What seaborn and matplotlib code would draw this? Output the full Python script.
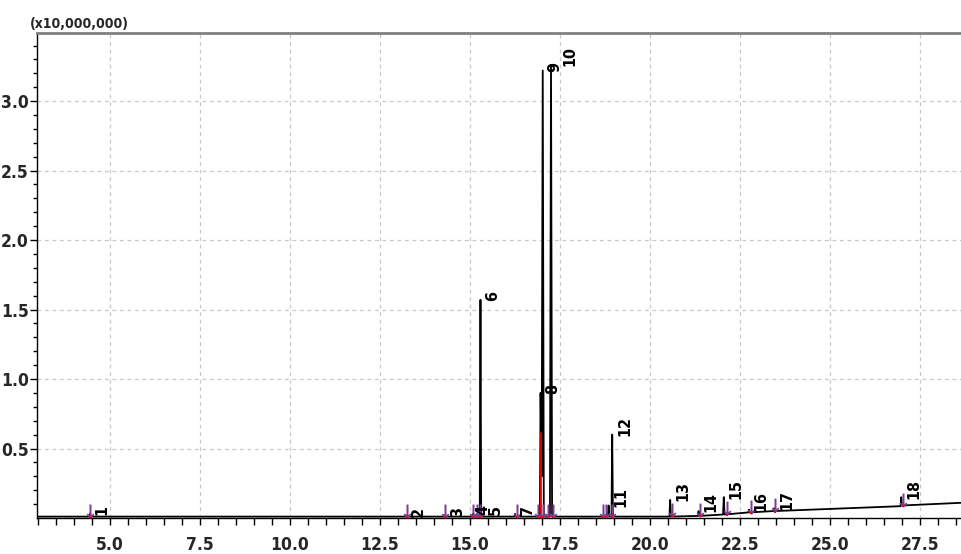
import matplotlib
matplotlib.use("Agg")
import matplotlib.pyplot as plt
from matplotlib import font_manager as fm
import seaborn as sns
import pandas as pd

# ---- data (retention time in min, intensity in x10,000,000) ----
trace_rt = [3.0, 4.42, 4.44, 4.46, 13.20, 13.22, 13.24, 14.28, 14.30, 14.32,
            15.06, 15.08, 15.10, 15.18, 15.20, 15.22, 15.27, 15.29, 15.31,
            16.23, 16.25, 16.27, 16.94, 16.96, 16.99, 17.02, 17.05, 17.22,
            17.25, 17.28, 18.83, 18.85, 18.87, 18.93, 18.95, 18.97, 20.54,
            20.56, 20.58, 21.33, 21.35, 21.37, 22.03, 22.05, 22.07, 22.73,
            22.75, 22.77, 23.43, 23.45, 23.47, 26.96, 26.98, 27.00, 28.70]
trace_val = [0.01, 0.01, 0.03, 0.01, 0.01, 0.02, 0.01, 0.01, 0.02, 0.01,
             0.01, 0.03, 0.01, 0.01, 0.03, 0.01, 0.01, 1.57, 0.01,
             0.01, 0.03, 0.01, 0.01, 0.90, 0.30, 3.22, 0.01, 0.01,
             3.26, 0.01, 0.01, 0.09, 0.01, 0.01, 0.60, 0.01, 0.01,
             0.13, 0.01, 0.015, 0.05, 0.015, 0.025, 0.15, 0.025, 0.04,
             0.06, 0.04, 0.05, 0.07, 0.05, 0.085, 0.15, 0.09, 0.11]

peak_ids = [str(i) for i in range(1, 19)]
peak_rt = [4.44, 13.22, 14.30, 15.08, 15.20, 15.29, 16.25, 16.96, 17.02,
           17.25, 18.85, 18.95, 20.56, 21.35, 22.05, 22.75, 23.45, 26.98]
peak_val = [0.03, 0.02, 0.02, 0.03, 0.03, 1.57, 0.03, 0.90, 3.22,
            3.26, 0.09, 0.60, 0.13, 0.05, 0.15, 0.06, 0.07, 0.15]

marker_rt = [4.44, 13.25, 14.31, 15.08, 15.19, 15.28, 16.31, 16.89, 17.03,
             17.17, 17.31, 18.69, 18.78, 18.94, 20.61, 21.39, 22.14, 22.81,
             23.47, 27.03]
marker_val = [0.05, 0.05, 0.05, 0.05, 0.05, 0.05, 0.05, 0.05, 0.05,
              0.05, 0.05, 0.05, 0.05, 0.05, 0.06, 0.06, 0.07, 0.08,
              0.09, 0.13]

area_rt = [16.93, 16.935, 16.98, 16.985]
area_val = [0.0, 0.62, 0.62, 0.0]

x_ticks = [5.0, 7.5, 10.0, 12.5, 15.0, 17.5, 20.0, 22.5, 25.0, 27.5]
y_ticks = [0.5, 1.0, 1.5, 2.0, 2.5, 3.0]
y_ticklabels = ["0.5", "1.0", "1.5", "2.0", "2.5", "3.0"]
scale_label = "(x10,000,000)"

# ---- font choice: narrow bold if available ----
names = {f.name for f in fm.fontManager.ttflist}
stretches = {(f.name, f.stretch) for f in fm.fontManager.ttflist}
STRETCH = "normal"
if "Liberation Sans Narrow" in names:
    FONT = ["Liberation Sans Narrow", "DejaVu Sans"]
elif ("DejaVu Sans", "condensed") in stretches or ("DejaVu Sans", 300) in stretches:
    FONT = ["DejaVu Sans", "Liberation Sans"]
    STRETCH = "condensed"
elif "Roboto Condensed" in names:
    FONT = ["Roboto Condensed", "DejaVu Sans"]
elif "Open Sans Condensed" in names:
    FONT = ["Open Sans Condensed", "DejaVu Sans"]
else:
    FONT = ["Liberation Sans", "DejaVu Sans"]

# ---- style ----
sns.set_theme(style="white")
plt.rcParams["font.family"] = FONT
plt.rcParams["font.weight"] = "bold"
plt.rcParams["font.stretch"] = STRETCH

fig = plt.figure(figsize=(9.61, 5.54), dpi=100)
ax = fig.add_axes([37 / 961, 36 / 554, 1 - 37 / 961, (518 - 33) / 554])

df = pd.DataFrame({"rt": trace_rt, "val": trace_val})
sns.lineplot(data=df, x="rt", y="val", color="black", lw=1.3, sort=False,
             estimator=None, ax=ax, zorder=3)

ax.fill_between(area_rt, area_val, color="red", lw=0, zorder=4)

mk = pd.DataFrame({"rt": marker_rt, "val": marker_val})
sns.scatterplot(data=mk, x="rt", y="val", marker=r"$\downarrow$", s=100,
                color="#7b3f8f", linewidth=0, ax=ax, zorder=5)
sns.scatterplot(x=marker_rt, y=[v - 0.045 for v in marker_val], marker="s",
                s=4, color="red", linewidth=0, ax=ax, zorder=5)

label_dx = {"4": 1.5, "5": 8.0, "9": 3.0, "10": 8.5}
for pid, rt, v in zip(peak_ids, peak_rt, peak_val):
    ax.annotate(pid, xy=(rt, v), xytext=(label_dx.get(pid, 3.5), -1),
                textcoords="offset points", rotation=90, ha="left",
                va="bottom", fontsize=11.5, fontweight="bold", family=FONT,
                fontstretch=STRETCH, color="black", zorder=6)

ax.set_xlim(2.97, 28.64)
ax.set_ylim(0, 3.49)
ax.set_xlabel("")
ax.set_ylabel("")

ax.set_xticks(x_ticks)
ax.set_xticklabels([f"{t:.1f}" for t in x_ticks])
ax.set_xticks([t for t in [3.0 + 0.5 * i for i in range(52)] if t not in x_ticks],
              minor=True)
ax.set_yticks(y_ticks)
ax.set_yticklabels(y_ticklabels)
ax.set_yticks([round(0.1 * i, 1) for i in range(1, 35) if i % 5 != 0], minor=True)

ax.tick_params(axis="x", which="both", direction="out", length=5, width=1,
               color="black", bottom=True, labelsize=12.5, pad=8)
ax.tick_params(axis="y", which="major", direction="out", length=5, width=1,
               color="black", left=True, labelsize=12.5, pad=1)
ax.tick_params(axis="y", which="minor", direction="out", length=3, width=1,
               color="black", left=True)
for lab in ax.get_xticklabels() + ax.get_yticklabels():
    lab.set_fontweight("bold")
    lab.set_fontstretch(STRETCH)

ax.grid(True, which="major", color="#c8c8c8", linestyle=(0, (3, 3)), lw=0.9)
ax.set_axisbelow(True)

ax.spines["left"].set_color("black")
ax.spines["left"].set_linewidth(1.0)
ax.spines["bottom"].set_color("black")
ax.spines["bottom"].set_linewidth(1.0)
ax.spines["top"].set_color("#808080")
ax.spines["top"].set_linewidth(2.0)
ax.spines["right"].set_visible(False)

fig.text(30 / 961, 1 - 24 / 554, scale_label, ha="left", va="center",
         fontsize=10, fontweight="bold", family=FONT, fontstretch=STRETCH)

fig.savefig("out.png", dpi=100)
